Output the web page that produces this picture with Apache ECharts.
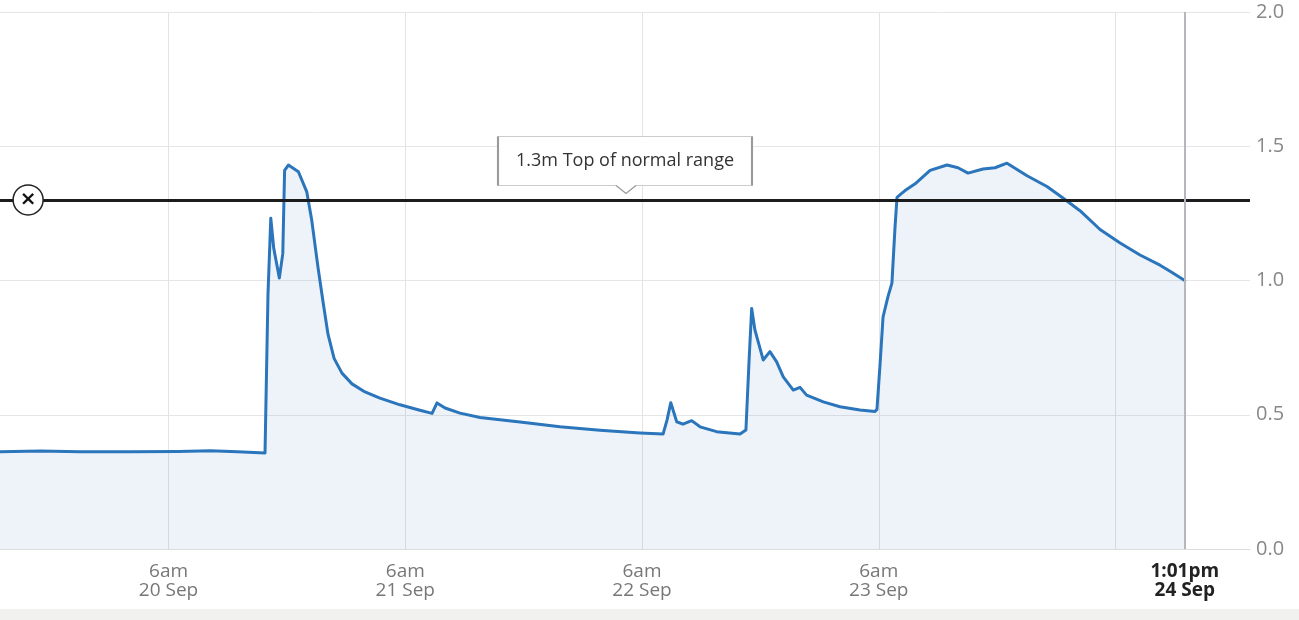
<!DOCTYPE html>
<html>
<head>
<meta charset="utf-8">
<title>River level</title>
<script src="https://cdn.jsdelivr.net/npm/echarts@6/dist/echarts.min.js"></script>
<style>
  html, body { margin: 0; padding: 0; background: #fff; }
  #wrap { position: relative; width: 1299px; height: 620px; overflow: hidden; }
  #strip { position: absolute; left: 0; right: 0; bottom: 0; height: 11px; background: #f1f1f0; }
  #chart { position: absolute; left: 0; top: 0; width: 1299px; height: 620px; }
</style>
</head>
<body>
<div id="wrap">
  <div id="strip"></div>
  <div id="chart"></div>
</div>
<script>
// readings (local time) and level in metres
var times = [
  '2023-09-19 12:55', '2023-09-19 17:00', '2023-09-19 21:00', '2023-09-20 02:00',
  '2023-09-20 07:00', '2023-09-20 10:13', '2023-09-20 13:00', '2023-09-20 15:47',
  '2023-09-20 16:05', '2023-09-20 16:22', '2023-09-20 16:40', '2023-09-20 17:14',
  '2023-09-20 17:35', '2023-09-20 17:46', '2023-09-20 18:09', '2023-09-20 19:10',
  '2023-09-20 20:01', '2023-09-20 20:31', '2023-09-20 21:09', '2023-09-20 21:40',
  '2023-09-20 22:10', '2023-09-20 22:47', '2023-09-20 23:35', '2023-09-21 00:36',
  '2023-09-21 01:55', '2023-09-21 03:26', '2023-09-21 05:28', '2023-09-21 07:29',
  '2023-09-21 08:43', '2023-09-21 09:13', '2023-09-21 10:02', '2023-09-21 11:33',
  '2023-09-21 13:35', '2023-09-21 17:38', '2023-09-21 21:41', '2023-09-22 01:44',
  '2023-09-22 05:48', '2023-09-22 08:08', '2023-09-22 08:32', '2023-09-22 08:55',
  '2023-09-22 09:31', '2023-09-22 10:09', '2023-09-22 11:02', '2023-09-22 11:53',
  '2023-09-22 13:34', '2023-09-22 15:56', '2023-09-22 16:32', '2023-09-22 16:51',
  '2023-09-22 17:07', '2023-09-22 17:27', '2023-09-22 18:17', '2023-09-22 18:58',
  '2023-09-22 19:39', '2023-09-22 20:19', '2023-09-22 21:20', '2023-09-22 22:01',
  '2023-09-22 22:41', '2023-09-23 00:23', '2023-09-23 02:04', '2023-09-23 04:06',
  '2023-09-23 05:37', '2023-09-23 05:49', '2023-09-23 06:07', '2023-09-23 06:26',
  '2023-09-23 06:56', '2023-09-23 07:20', '2023-09-23 07:39', '2023-09-23 07:51',
  '2023-09-23 08:10', '2023-09-23 08:40', '2023-09-23 09:41', '2023-09-23 11:12',
  '2023-09-23 12:55', '2023-09-23 14:02', '2023-09-23 15:03', '2023-09-23 16:34',
  '2023-09-23 17:47', '2023-09-23 19:00', '2023-09-23 21:02', '2023-09-23 23:03',
  '2023-09-24 00:34', '2023-09-24 02:24', '2023-09-24 04:26', '2023-09-24 06:28',
  '2023-09-24 08:29', '2023-09-24 10:31', '2023-09-24 11:44', '2023-09-24 13:01'
];
var levels = [
  0.362, 0.365, 0.362, 0.362,
  0.363, 0.366, 0.362, 0.358,
  0.95, 1.232, 1.12, 1.009,
  1.10, 1.41, 1.43, 1.405,
  1.33, 1.225, 1.05, 0.92,
  0.80, 0.71, 0.655, 0.615,
  0.585, 0.562, 0.537, 0.517,
  0.505, 0.544, 0.525, 0.506,
  0.49, 0.473, 0.455, 0.442,
  0.432, 0.428, 0.48, 0.545,
  0.474, 0.465, 0.478, 0.455,
  0.437, 0.428, 0.443, 0.70,
  0.896, 0.815, 0.704, 0.735,
  0.697, 0.641, 0.592, 0.602,
  0.573, 0.548, 0.53, 0.518,
  0.512, 0.52, 0.68, 0.864,
  0.94, 0.99, 1.2, 1.31,
  1.32, 1.335, 1.36, 1.41,
  1.43, 1.42, 1.40, 1.415,
  1.42, 1.437, 1.39, 1.35,
  1.31, 1.26, 1.19, 1.14,
  1.095, 1.057, 1.03, 1.0
];

// axis range and ticks
var xRange = ['2023-09-19 12:55', '2023-09-24 19:38'];
var gridTimes = ['2023-09-20 06:00', '2023-09-21 06:00', '2023-09-22 06:00', '2023-09-23 06:00', '2023-09-24 06:00'];
var labelTimes = ['2023-09-20 06:00', '2023-09-21 06:00', '2023-09-22 06:00', '2023-09-23 06:00', '2023-09-24 13:01'];
var labelText = [['6am', '20 Sep'], ['6am', '21 Sep'], ['6am', '22 Sep'], ['6am', '23 Sep'], ['1:01pm', '24 Sep']];
var yTicks = [0, 0.5, 1.0, 1.5, 2.0];

var normalTop = 1.3;
var normalText = '1.3m Top of normal range';

function ts(s) {
  return new Date(s.replace(' ', 'T')).getTime();
}

var data = [];
for (var i = 0; i < times.length; i++) {
  data.push([ts(times[i]), levels[i]]);
}
var xMin = ts(xRange[0]);
var xMax = ts(xRange[1]);
var labelVals = labelTimes.map(ts);
var lastTime = ts(times[times.length - 1]);
var font = '"Open Sans", Lato, sans-serif';

var chart = echarts.init(document.getElementById('chart'));
chart.setOption({
  animation: false,
  grid: { left: 0, right: 49, top: 12, bottom: 71, containLabel: false },
  xAxis: {
    type: 'value',
    min: xMin,
    max: xMax,
    axisLine: { show: true, lineStyle: { color: '#dcdcdc', width: 1 } },
    axisTick: { show: false, customValues: gridTimes.map(ts) },
    splitLine: { show: true, lineStyle: { color: '#e3e3e3', width: 1 } },
    axisLabel: {
      customValues: labelVals,
      margin: 13,
      fontFamily: font,
      fontSize: 19,
      lineHeight: 19,
      color: '#777',
      formatter: function(val) {
        var idx = labelVals.indexOf(val);
        if (idx < 0) return '';
        var t = labelText[idx];
        if (idx === labelText.length - 1) {
          return '{b|' + t[0] + '}\n{b|' + t[1] + '}';
        }
        return t[0] + '\n' + t[1];
      },
      rich: {
        b: { fontFamily: font, fontSize: 19, lineHeight: 19, fontWeight: 'bold', color: '#222' }
      }
    }
  },
  yAxis: {
    type: 'value',
    position: 'right',
    min: yTicks[0],
    max: yTicks[yTicks.length - 1],
    interval: 0.5,
    axisLine: { show: false },
    axisTick: { show: false },
    splitLine: { lineStyle: { color: '#e6e6e6', width: 1 } },
    axisLabel: {
      margin: 6,
      fontFamily: font,
      fontSize: 20,
      color: '#888',
      formatter: function(v) { return v.toFixed(1); }
    }
  },
  series: [{
    type: 'line',
    data: data,
    showSymbol: false,
    smooth: false,
    lineStyle: { color: '#2a75bb', width: 3, join: 'round', cap: 'round' },
    itemStyle: { color: '#2a75bb' },
    areaStyle: { color: 'rgba(43,116,185,0.12)' },
    markLine: {
      silent: true,
      symbol: ['none', 'none'],
      label: { show: false },
      data: [
        { yAxis: normalTop, lineStyle: { color: '#1c1c1c', width: 3, type: 'solid' } },
        { xAxis: lastTime, lineStyle: { color: '#b4b8bc', width: 2, type: 'solid' } }
      ]
    },
    markPoint: {
      silent: true,
      data: [
        {
          // round marker on the left end of the threshold line
          coord: [xMin + 2.85 * 3600000, normalTop],
          symbol: 'circle',
          symbolSize: 30,
          itemStyle: { color: '#fff', borderColor: '#222', borderWidth: 1.5 },
          label: {
            show: true, position: 'inside', formatter: '\u00d7',
            fontFamily: 'DejaVu Sans', fontSize: 20, fontWeight: 'bold', color: '#111'
          }
        },
        {
          // callout box above the threshold line
          coord: [(xMin + xMax) / 2, normalTop],
          symbol: 'path://M0,0L254,0L254,49L138,49L128,57L118,49L0,49Z',
          symbolSize: [254, 57],
          symbolKeepAspect: false,
          symbolOffset: [0, -35],
          itemStyle: { color: '#fff', borderColor: '#9a9a9a', borderWidth: 1 },
          label: {
            show: true, position: 'inside', offset: [0, -4],
            formatter: normalText,
            fontFamily: font, fontSize: 18, color: '#333'
          }
        }
      ]
    }
  }]
});
</script>
</body>
</html>
